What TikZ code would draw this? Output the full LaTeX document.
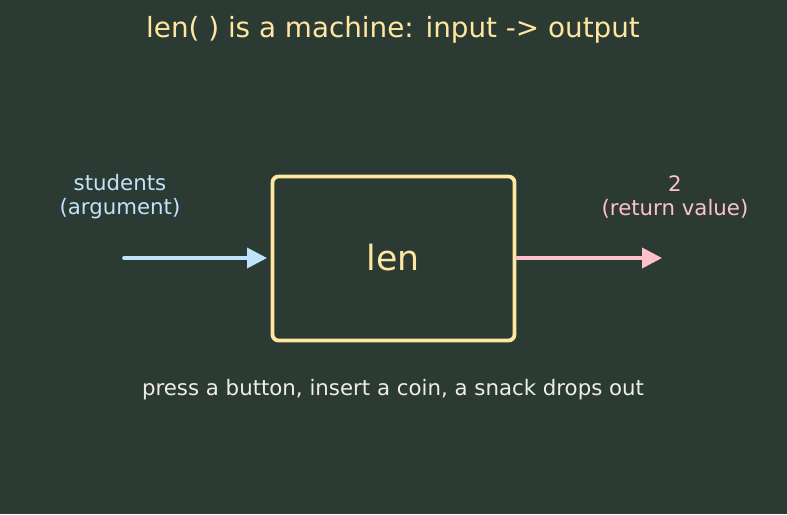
\documentclass[tikz,border=0pt]{standalone}
\usepackage{fontspec}
\setmainfont{DejaVu Sans}
\usetikzlibrary{arrows.meta}
\definecolor{bg}{HTML}{2B3B34}
\definecolor{ylw}{HTML}{FFE7A0}
\definecolor{lblue}{HTML}{BFE3FA}
\definecolor{pnk}{HTML}{FFC0CC}
\definecolor{wht}{HTML}{EEEEE4}
\tikzset{
  lbl/.style={inner sep=0pt, align=center, font=\fontsize{21.3}{24}\selectfont},
  flow/.style={line width=3.6pt, line cap=round, -{Triangle[length=20pt,width=20pt]}},
}
\begin{document}
\begin{tikzpicture}[x=1pt,y=-1pt]
\fill[bg] (0,0) rectangle (787,514);
\useasboundingbox (0,0) rectangle (787,514);
\node[text=ylw, inner sep=0pt, font=\fontsize{27.8}{32}\selectfont] (title) at (393,29.5) {len( ) is a machine: input -> output};
\draw[ylw, line width=3.8pt, rounded corners=6pt] (272.5,176.5) rectangle (514.5,340.5);
\node[text=ylw, inner sep=0pt, font=\fontsize{34.7}{40}\selectfont] (box) at (393,258) {len};
\coordinate (boxL) at (267,258);
\coordinate (boxR) at (517,258);
\coordinate (inS) at (124,258);
\coordinate (outE) at (662,258);
\node[lbl, text=lblue] (inlbl) at (120,197) {students\\(argument)};
\node[lbl, text=pnk] (outlbl) at (675,197) {2\\(return value)};
\draw[flow, lblue] (inS) -- (boxL);
\draw[flow, pnk] (boxR) -- (outE);
\node[text=wht, inner sep=0pt, font=\fontsize{21.3}{24}\selectfont] (note) at (393,390) {press a button, insert a coin, a snack drops out};
\end{tikzpicture}
\end{document}
